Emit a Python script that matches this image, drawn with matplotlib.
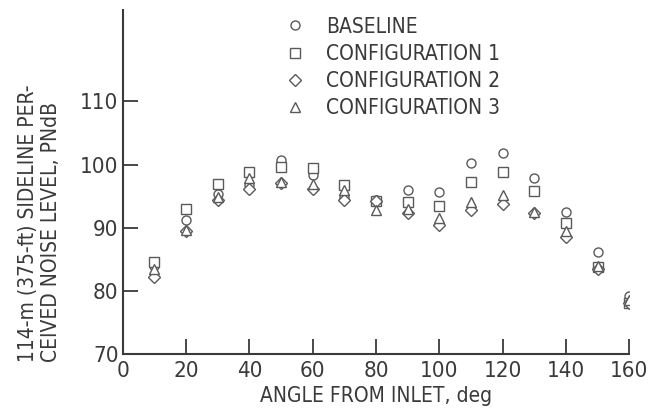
import matplotlib
matplotlib.use("Agg")
import matplotlib.pyplot as plt

plt.rcParams.update({"font.family": ["DejaVu Sans"], "font.stretch": "condensed"})

angle = [10, 20, 30, 40, 50, 60, 70, 80, 90, 100, 110, 120, 130, 140, 150, 160]
baseline = [84.0, 91.2, 95.4, 96.7, 100.7, 98.3, 94.9, 94.4, 95.9, 95.7, 100.3, 101.9, 97.8, 92.5, 86.2, 79.1]
config1 = [84.6, 93.0, 97.0, 98.8, 99.6, 99.4, 96.7, 94.2, 94.1, 93.5, 97.3, 98.9, 95.8, 90.7, 83.8, 78.0]
config2 = [82.2, 89.4, 94.4, 96.2, 97.1, 96.2, 94.4, 94.3, 92.4, 90.4, 92.8, 93.8, 92.3, 88.6, 83.5, 78.0]
config3 = [83.5, 89.7, 94.8, 97.8, 97.3, 97.0, 95.9, 92.8, 93.0, 91.5, 94.1, 95.2, 92.5, 89.4, 84.0, 78.5]

series = [("BASELINE", baseline, "o"),
          ("CONFIGURATION 1", config1, "s"),
          ("CONFIGURATION 2", config2, "D"),
          ("CONFIGURATION 3", config3, "^")]

ink = "#3a3a3a"
fig = plt.figure(figsize=(6.5, 4.13), dpi=100)
ax = fig.add_axes([0.189, 0.143, 0.779, 0.833])

sizes = {"o": 6.5, "s": 6.5, "D": 6, "^": 6.5}
for label, vals, m in series:
    ax.plot(angle, vals, m, ls="none", ms=sizes[m], mfc="white", mec="#5a5a5a",
            mew=1.0, label=label)

ax.set_xlim(0, 160)
ax.set_ylim(70, 124.5)
ax.set_xticks(range(0, 161, 20))
ax.set_yticks([70, 80, 90, 100, 110])
for s in ("top", "right"):
    ax.spines[s].set_visible(False)
for s in ("left", "bottom"):
    ax.spines[s].set_color(ink)
    ax.spines[s].set_linewidth(1.5)
ax.tick_params(direction="in", length=11, width=1.3, color=ink,
               labelsize=16, labelcolor=ink)
ax.tick_params(axis="x", pad=5)
ax.tick_params(axis="y", pad=3)

ax.set_xlabel("ANGLE FROM INLET, deg", fontsize=15, color=ink, labelpad=4)
# y label sits low, lines start together at the bottom
fig.text(0.0605, 0.1235, "114-m (375-ft) SIDELINE PER-\nCEIVED NOISE LEVEL, PNdB",
         rotation=90, ha="center", va="bottom", multialignment="left",
         fontsize=15, color=ink, linespacing=1.15)

ax.legend(loc="upper left", bbox_to_anchor=(0.29, 1.005), frameon=False,
          fontsize=15, handletextpad=0.7, labelspacing=0.35, borderaxespad=0,
          labelcolor=ink, handlelength=1.6)

fig.savefig("out.png", dpi=100)
